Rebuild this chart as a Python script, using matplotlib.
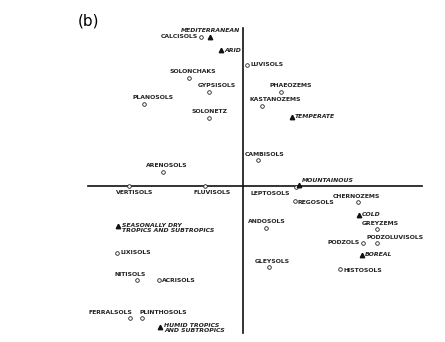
import matplotlib.pyplot as plt

# soil groups (ordination scores)
soils = ["CALCISOLS", "LUVISOLS", "SOLONCHAKS", "GYPSISOLS", "PHAEOZEMS", "PLANOSOLS",
         "KASTANOZEMS", "SOLONETZ", "CAMBISOLS", "ARENOSOLS", "VERTISOLS", "FLUVISOLS",
         "LEPTOSOLS", "REGOSOLS", "CHERNOZEMS", "ANDOSOLS", "GREYZEMS", "PODZOLUVISOLS",
         "PODZOLS", "LIXISOLS", "GLEYSOLS", "HISTOSOLS", "NITISOLS", "ACRISOLS",
         "FERRALSOLS", "PLINTHOSOLS"]
soil_x = [-0.42, 0.04, -0.54, -0.34, 0.38, -0.99, 0.19, -0.34, 0.15, -0.80, -1.14, -0.38,
          0.53, 0.52, 1.15, 0.23, 1.34, 1.34, 1.20, -1.26, 0.26, 0.97, -1.06, -0.84,
          -1.13, -1.01]
soil_y = [1.49, 1.21, 1.08, 0.94, 0.94, 0.82, 0.80, 0.68, 0.26, 0.14, 0.0, 0.0,
          -0.01, -0.15, -0.16, -0.42, -0.43, -0.57, -0.57, -0.67, -0.81, -0.83, -0.94, -0.94,
          -1.32, -1.32]

# climate zones
climates = ["MEDITERRANEAN", "ARID", "TEMPERATE", "MOUNTAINOUS",
            "SEASONALLY DRY\nTROPICS AND SUBTROPICS", "COLD", "BOREAL",
            "HUMID TROPICS\nAND SUBTROPICS"]
clim_x = [-0.33, -0.22, 0.49, 0.56, -1.25, 1.16, 1.19, -0.83]
clim_y = [1.49, 1.36, 0.69, 0.01, -0.40, -0.29, -0.69, -1.41]

# label placement: (dx px, dy px, ha, va)
soil_lab = {
    "CALCISOLS": (-3, 0, "right", "center"), "LUVISOLS": (3, 0, "left", "center"),
    "SOLONCHAKS": (4, 4, "center", "bottom"), "GYPSISOLS": (8, 4, "center", "bottom"),
    "PHAEOZEMS": (10, 4, "center", "bottom"), "PLANOSOLS": (9, 4, "center", "bottom"),
    "KASTANOZEMS": (13, 4, "center", "bottom"), "SOLONETZ": (0, 4, "center", "bottom"),
    "CAMBISOLS": (7, 3, "center", "bottom"), "ARENOSOLS": (4, 4, "center", "bottom"),
    "VERTISOLS": (6, -4, "center", "top"), "FLUVISOLS": (7, -4, "center", "top"),
    "LEPTOSOLS": (-26, -4, "center", "top"), "REGOSOLS": (2, -2, "left", "center"),
    "CHERNOZEMS": (-2, 3, "center", "bottom"), "ANDOSOLS": (1, 4, "center", "bottom"),
    "GREYZEMS": (3, 3, "center", "bottom"), "PODZOLUVISOLS": (18, 3, "center", "bottom"),
    "PODZOLS": (-3, 1, "right", "center"), "LIXISOLS": (3, 0, "left", "center"),
    "GLEYSOLS": (3, 3, "center", "bottom"), "HISTOSOLS": (3, -2, "left", "center"),
    "NITISOLS": (-7, 3, "center", "bottom"), "ACRISOLS": (3, 0, "left", "center"),
    "FERRALSOLS": (-20, 3, "center", "bottom"), "PLINTHOSOLS": (21, 3, "center", "bottom"),
}
clim_lab = [(30, 6, "right", "center"), (3, 0, "left", "center"), (3, 1, "left", "center"),
            (3, 4, "left", "center"), (4, -2, "left", "center"), (3, 0, "left", "center"),
            (3, 0, "left", "center"), (4, -1, "left", "center")]

fig = plt.figure(figsize=(4.45, 3.42), dpi=100)
ax = fig.add_axes([0, 0, 1, 1])
ax.set_xlim(-2.43, 2.02)
ax.set_ylim(-1.56, 1.86)
ax.axis("off")

ax.axhline(0, xmin=0.198, xmax=0.948, color="#111111", linewidth=1.2)
ax.axvline(0, ymin=0.026, ymax=0.918, color="#111111", linewidth=1.2)

ax.plot(soil_x, soil_y, "o", markersize=2.6, markerfacecolor="white",
        markeredgecolor="#222222", markeredgewidth=0.6, zorder=3)
ax.plot(clim_x, clim_y, "^", markersize=3.2, color="#111111", zorder=3)

pt = 0.72  # points per pixel
for name, x, y in zip(soils, soil_x, soil_y):
    dx, dy, ha, va = soil_lab[name]
    ax.annotate(name, (x, y), xytext=(dx * pt, dy * pt), textcoords="offset points",
                ha=ha, va=va, fontsize=4.4, fontweight="bold", color="#222222")

for name, x, y, (dx, dy, ha, va) in zip(climates, clim_x, clim_y, clim_lab):
    ax.annotate(name, (x, y), xytext=(dx * pt, dy * pt), textcoords="offset points",
                ha=ha, va=va, fontsize=4.4, fontweight="bold", fontstyle="italic",
                color="#222222", linespacing=1.1)

fig.text(0.175, 0.94, "(b)", fontsize=11, ha="left", va="center")

fig.savefig("out.png", dpi=100)
